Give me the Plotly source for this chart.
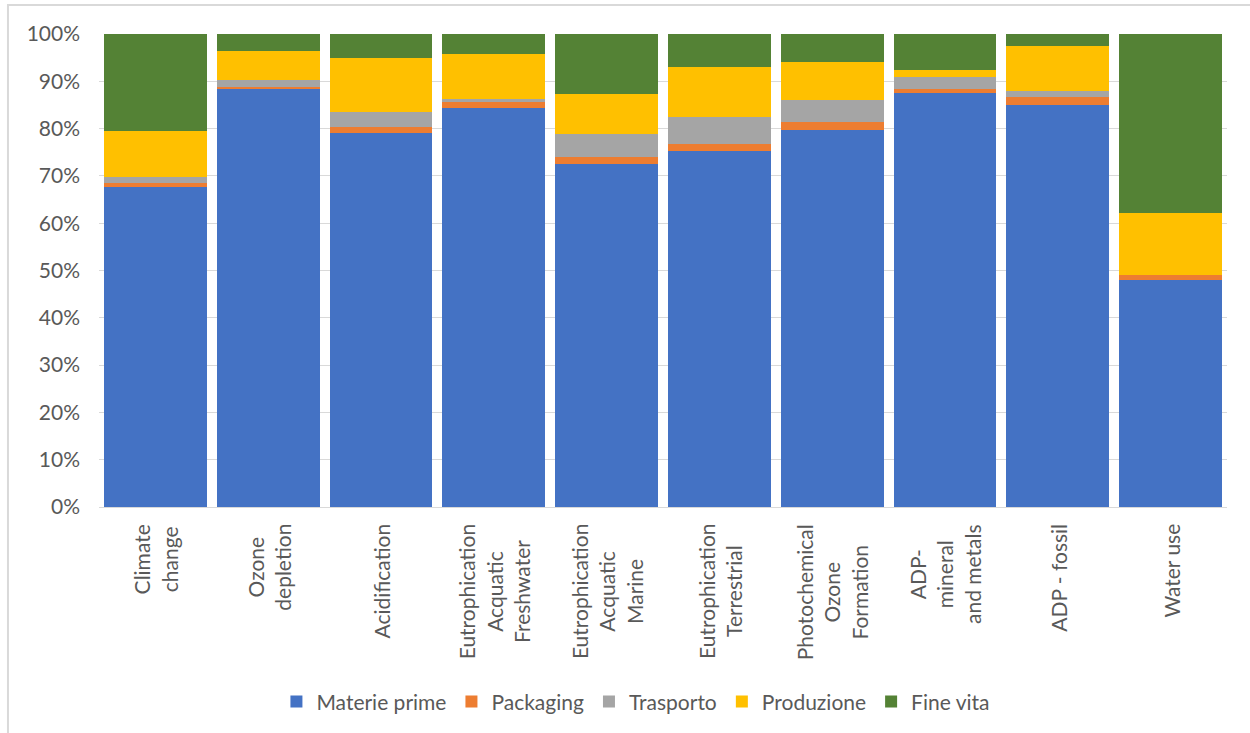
import plotly.graph_objects as go

categories = ["Climate change", "Ozone depletion", "Acidification",
              "Eutrophication Acquatic Freshwater", "Eutrophication Acquatic Marine",
              "Eutrophication Terrestrial", "Photochemical Ozone Formation",
              "ADP- mineral and metals", "ADP - fossil", "Water use"]
tick_labels = ["Climate<br>change", "Ozone<br>depletion", "Acidification",
               "Eutrophication<br>Acquatic<br>Freshwater", "Eutrophication<br>Acquatic<br>Marine",
               "Eutrophication<br>Terrestrial", "Photochemical<br>Ozone<br>Formation",
               "ADP-<br>mineral<br>and metals", "ADP - fossil", "Water use"]

materie_prime = [67.6, 88.5, 79.1, 84.4, 72.6, 75.2, 79.7, 87.6, 85.0, 47.9]
packaging     = [0.8, 0.4, 1.3, 1.3, 1.3, 1.6, 1.8, 0.7, 1.7, 1.1]
trasporto     = [1.3, 1.3, 3.2, 0.5, 5.0, 5.7, 4.6, 2.6, 1.3, 0.0]
produzione    = [9.7, 6.2, 11.3, 9.5, 8.4, 10.5, 8.0, 1.4, 9.5, 13.2]
fine_vita     = [20.6, 3.6, 5.1, 4.3, 12.7, 7.0, 5.9, 7.7, 2.5, 37.8]

series = [
    ("Materie prime", materie_prime, "#4472C4"),
    ("Packaging", packaging, "#ED7D31"),
    ("Trasporto", trasporto, "#A5A5A5"),
    ("Produzione", produzione, "#FFC000"),
    ("Fine vita", fine_vita, "#548235"),
]

FONT = "Lato"
TXT = "#595959"

fig = go.Figure()
for name, vals, col in series:
    fig.add_trace(go.Bar(
        x=categories, y=[v / 100 for v in vals], name=name,
        marker=dict(color=col, line=dict(width=0)),
    ))

annotations = []
for cat, lab in zip(categories, tick_labels):
    annotations.append(dict(
        x=cat, xref="x", y=0, yref="paper", yshift=-15,
        text=lab, textangle=-90, showarrow=False,
        xanchor="center", yanchor="top", align="center",
        font=dict(family=FONT, size=21, color=TXT),
    ))

fig.update_layout(
    width=1250, height=733,
    margin=dict(l=99, r=23, t=34, b=225),
    paper_bgcolor="white", plot_bgcolor="white",
    barmode="stack", bargap=0.087,
    font=dict(family=FONT, color=TXT, size=21),
    xaxis=dict(showticklabels=False, showline=True, linecolor="#d9d9d9",
               linewidth=1, ticks="", showgrid=False),
    yaxis=dict(range=[0, 1], dtick=0.1, tickformat=".0%", showgrid=True,
               gridcolor="#d9d9d9", gridwidth=1, zeroline=False, ticks="",
               ticklabelstandoff=18,
               tickfont=dict(family=FONT, size=21, color=TXT)),
    legend=dict(orientation="h", x=0.476, xanchor="center", y=-0.409, yanchor="middle",
                font=dict(family=FONT, size=21, color=TXT), traceorder="normal"),
    annotations=annotations,
    shapes=[dict(type="rect", xref="paper", yref="paper",
                 x0=-0.0807, x1=1.06, y0=-0.6, y1=1.0612,
                 line=dict(color="#d9d9d9", width=2), layer="below")],
)

fig.write_html("out.html")
